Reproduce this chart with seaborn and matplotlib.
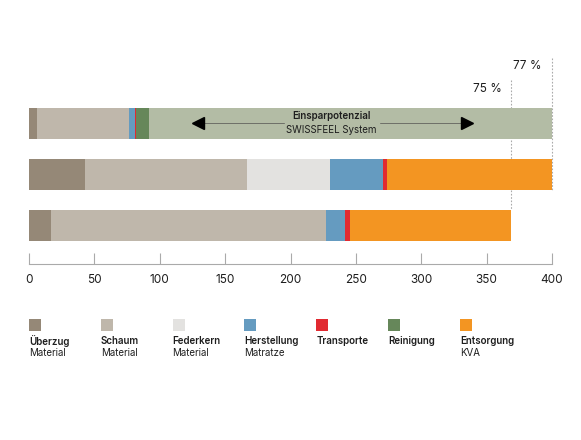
import numpy as np
import pandas as pd
import seaborn as sns
import matplotlib.pyplot as plt
from matplotlib.patches import Rectangle

# ---------------- data ----------------
rows = ["SWISSFEEL", "Federkern", "Schaum"]
ueberzug = [6.4, 42.5, 17.0]
schaum = [70.0, 124.0, 210.0]
federkern = [0.0, 64.0, 0.0]
herstellung = [4.5, 40.0, 15.0]
transporte = [1.0, 3.5, 3.5]
reinigung = [10.0, 0.0, 0.0]
entsorgung = [0.0, 126.0, 123.0]
einsparung = [308.1, 0.0, 0.0]

segments = ["Überzug", "Schaum", "Federkern", "Herstellung", "Transporte",
            "Reinigung", "Entsorgung", "Einsparung"]
seg_values = [ueberzug, schaum, federkern, herstellung, transporte,
              reinigung, entsorgung, einsparung]
colors = ["#958877", "#bfb7ab", "#e3e2e0", "#659bc0", "#e12a31",
          "#66875a", "#f39522", "#b3bca5"]

legend_names = ["Überzug", "Schaum", "Federkern", "Herstellung",
                "Transporte", "Reinigung", "Entsorgung"]
legend_subs = ["Material", "Material", "Material", "Matratze", "", "", "KVA"]

xticks = [0, 50, 100, 150, 200, 250, 300, 350, 400]
pct_labels = ["77 %", "75 %"]

# ---------------- setup ----------------
sns.set_theme(style="white")
plt.rcParams["font.family"] = ["Inter", "DejaVu Sans"]
TXT = "#1e1e1e"

df = pd.DataFrame({s: v for s, v in zip(segments, seg_values)})
df["row"] = rows
cum = df[segments].cumsum(axis=1)
cum["row"] = rows

fig = plt.figure(figsize=(5.81, 4.40), dpi=100)
W, H = 581, 440
ax = fig.add_axes([29 / W, 1 - 264 / H, (552 - 29) / W, (264 - 50) / H])

# stacked bars: draw cumulative totals, longest first
for seg, col in reversed(list(zip(segments, colors))):
    sns.barplot(data=cum, x=seg, y="row", orient="h", color=col,
                width=0.61, saturation=1, ax=ax, zorder=3,
                edgecolor="none", linewidth=0)

ax.set_xlim(0, 400)
ax.set_ylim(2.755, -1.441)

# reference lines
total_mid = cum["Einsparung"][1]
total_bot = cum["Einsparung"][2]
ax.plot([total_mid, total_mid], [-1.28, 1.305], color="#aaaaaa",
        lw=0.8, ls=(0, (1.5, 1.5)), zorder=1, clip_on=False)
ax.plot([total_bot, total_bot], [-0.85, 1.696], color="#aaaaaa",
        lw=0.8, ls=(0, (1.5, 1.5)), zorder=1)
ax.text(392, -1.13, pct_labels[0], ha="right", va="center",
        fontsize=8.5, color=TXT)
ax.text(361.5, -0.68, pct_labels[1], ha="right", va="center",
        fontsize=8.5, color=TXT)

# Einsparpotenzial arrow
ax.plot([127, 195], [0, 0], color="#6d6f68", lw=0.7, zorder=4)
ax.plot([268.5, 337], [0, 0], color="#6d6f68", lw=0.7, zorder=4)
ax.plot([129], [0], marker="<", ms=8, color="black", zorder=5)
ax.plot([335], [0], marker=">", ms=8, color="black", zorder=5)
ax.text(231, -0.05, "Einsparpotenzial", ha="center", va="bottom",
        fontsize=7, fontweight="semibold", color=TXT, zorder=6)
ax.text(231, 0.02, "SWISSFEEL System", ha="center", va="top",
        fontsize=7, color=TXT, zorder=6)

# axes styling
ax.set_xlabel("")
ax.set_ylabel("")
ax.set_yticks([])
ax.set_xticks(xticks)
ax.set_xticklabels([str(t) for t in xticks], fontsize=8.5, color=TXT)
for s in ["top", "left", "right"]:
    ax.spines[s].set_visible(False)
ax.spines["bottom"].set_color("#aaaaaa")
ax.spines["bottom"].set_linewidth(0.8)
ax.tick_params(axis="x", direction="in", length=8, width=0.8,
               color="#aaaaaa", pad=7, bottom=True)
ax.grid(False)

# legend
for i, (name, sub) in enumerate(zip(legend_names, legend_subs)):
    x0 = 29 + i * 71.8
    fig.add_artist(Rectangle((x0 / W, 1 - 331 / H), 12 / W, 12 / H,
                             transform=fig.transFigure,
                             facecolor=colors[i], edgecolor="none"))
    fig.text(x0 / W, 1 - 341 / H, name, ha="left", va="center",
             fontsize=7, fontweight="semibold", color=TXT)
    if sub:
        fig.text(x0 / W, 1 - 353 / H, sub, ha="left", va="center",
                 fontsize=7, color=TXT)

fig.savefig("out.png", dpi=100)
